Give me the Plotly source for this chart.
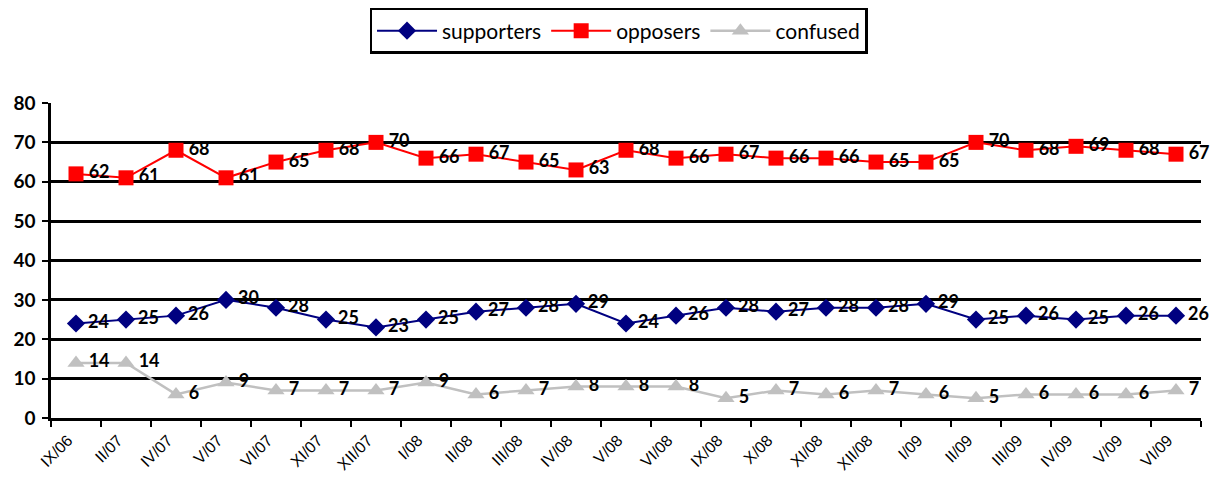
import plotly.graph_objects as go

categories = ["IX/06", "II/07", "IV/07", "V/07", "VI/07", "XI/07", "XII/07", "I/08", "II/08",
              "III/08", "IV/08", "V/08", "VI/08", "IX/08", "X/08", "XI/08", "XII/08", "I/09",
              "II/09", "III/09", "IV/09", "V/09", "VI/09"]
supporters = [24, 25, 26, 30, 28, 25, 23, 25, 27, 28, 29, 24, 26, 28, 27, 28, 28, 29, 25, 26, 25, 26, 26]
opposers = [62, 61, 68, 61, 65, 68, 70, 66, 67, 65, 63, 68, 66, 67, 66, 66, 65, 65, 70, 68, 69, 68, 67]
confused = [14, 14, 6, 9, 7, 7, 7, 9, 6, 7, 8, 8, 8, 5, 7, 6, 7, 6, 5, 6, 6, 6, 7]

label_font = dict(family="Lato, Carlito, sans-serif", size=18, color="black", weight="bold")

fig = go.Figure()
series = [
    ("supporters", supporters, "#000080", "diamond", 14, 2),
    ("opposers", opposers, "#FF0000", "square", 15, 2),
    ("confused", confused, "#C0C0C0", "triangle-up", 15, 2.5),
]
for name, vals, color, sym, size, w in series:
    fig.add_trace(go.Scatter(
        x=categories, y=vals, name=name, mode="lines+markers+text",
        line=dict(color=color, width=w),
        marker=dict(symbol=sym, size=size, color=color),
        text=["\u2009" + str(v) for v in vals], textposition="middle right",
        textfont=label_font, cliponaxis=False,
    ))

fig.update_layout(
    width=1215, height=478,
    margin=dict(l=43, r=22, t=95, b=68, autoexpand=False),
    plot_bgcolor="white", paper_bgcolor="white",
    showlegend=True,
    legend=dict(orientation="h", x=0.4935, xanchor="center", y=1.3016, yanchor="top",
                bordercolor="black", borderwidth=2.5, bgcolor="white",
                font=dict(family="Lato, Carlito, sans-serif", size=21, color="black"),
                itemwidth=60, tracegroupgap=0),
    xaxis=dict(type="category", range=[-0.5, 22.5], showgrid=False, automargin=False,
               showline=True, linecolor="black", linewidth=2.5,
               ticks="outside", tickson="boundaries", ticklen=6, tickwidth=2, tickcolor="black",
               tickangle=-45, ticklabelshift=-8, ticklabelstandoff=4,
               tickfont=dict(family="Arial, Liberation Sans, sans-serif", size=16, color="black")),
    yaxis=dict(range=[0, 80], dtick=10, showgrid=True, gridcolor="black", gridwidth=2.5, automargin=False,
               showline=True, linecolor="black", linewidth=2.5, zeroline=False,
               ticks="outside", ticklen=6, tickwidth=2, tickcolor="black", ticklabelstandoff=3,
               tickfont=dict(family="Lato, Carlito, sans-serif", size=19, color="black", weight="bold")),
)

fig.write_html("out.html")
